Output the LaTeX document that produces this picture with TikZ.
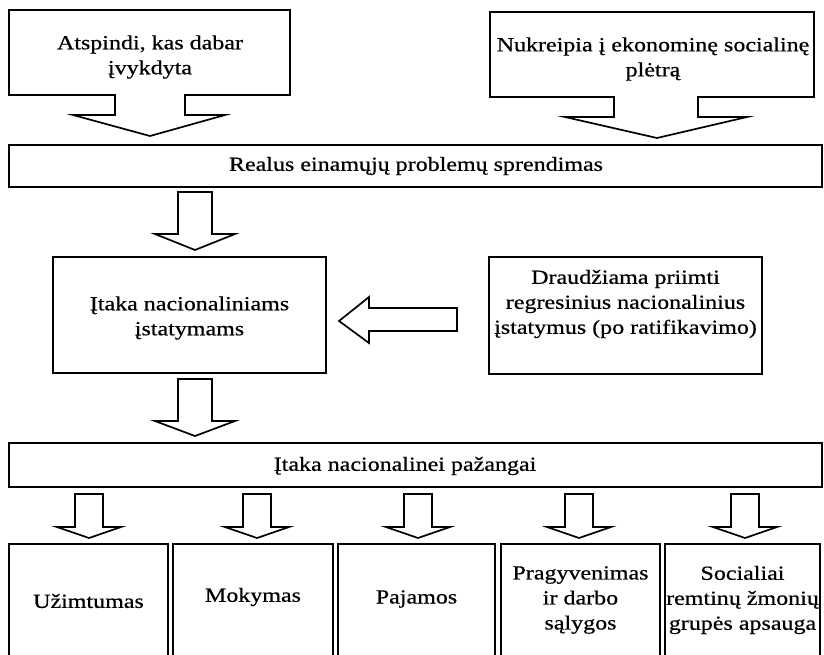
\documentclass[tikz,border=0pt]{standalone}
\usepackage{fontspec}
\setmainfont[FakeStretch=1.2,FakeBold=0.6]{Liberation Serif}
\begin{document}
\begin{tikzpicture}[x=1pt,y=-1pt,
  outline/.style={draw=black,line width=1.7pt,line join=miter,fill=white},
  box/.style={outline,inner sep=0pt,minimum width=#1},
  label/.style={align=center,inner sep=0pt,font=\fontsize{20}{25}\selectfont}]
\useasboundingbox (0,0) rectangle (824,654);
\clip (0,0) rectangle (824,654);

% top callouts
\draw[outline] (9,10) -- (290,10) -- (290,95) -- (185,95) -- (185,115) -- (225,115)
  -- (150,136) -- (73,115) -- (115,115) -- (115,95) -- (9,95) -- cycle;
\node[label] (now) at (150,57) {Atspindi, kas dabar\\įvykdyta};

\draw[outline] (490,12) -- (814,12) -- (814,97) -- (698,97) -- (698,117) -- (747,117)
  -- (657,138) -- (565,117) -- (614,117) -- (614,97) -- (490,97) -- cycle;
\node[label] (dev) at (653,59) {Nukreipia į ekonominę socialinę\\plėtrą};

% main row boxes
\node[box=813pt,minimum height=42pt] (solve) at (415.5,166) {};
\node[label] at (416,166) {Realus einamųjų problemų sprendimas};

\node[box=273pt,minimum height=116pt] (laws) at (189.5,315) {};
\node[label] at (189.5,318) {Įtaka nacionaliniams\\įstatymams};

\node[box=273pt,minimum height=117pt] (ban) at (625.5,315.5) {};
\node[label] at (625.5,304) {Draudžiama priimti\\regresinius nacionalinius\\įstatymus (po ratifikavimo)};

\node[box=813pt,minimum height=44pt] (prog) at (415.5,465) {};
\node[label] at (405,466) {Įtaka nacionalinei pažangai};

% block arrows between the rows
\draw[outline] (178,192) -- (212,192) -- (212,234) -- (235,234) -- (195,250)
  -- (155,234) -- (178,234) -- cycle;
\draw[outline] (178,379) -- (212,379) -- (212,421) -- (235,421) -- (195,436)
  -- (155,421) -- (178,421) -- cycle;
\draw[outline] (457,308) -- (457,331) -- (369,331) -- (369,343) -- (339,321)
  -- (369,297) -- (369,308) -- cycle;

% small arrows to the bottom row
\foreach \cx in {89,257,418,579,745}{
  \draw[outline] (\cx-14,494) -- (\cx+14,494) -- (\cx+14,527) -- (\cx+32,527)
    -- (\cx,538) -- (\cx-32,527) -- (\cx-14,527) -- cycle;
}

% bottom row
\node[box=159pt,minimum height=112pt] (b1) at (88.5,600) {};
\node[box=160pt,minimum height=112pt] (b2) at (253,600) {};
\node[box=157pt,minimum height=112pt] (b3) at (416.5,600) {};
\node[box=159pt,minimum height=112pt] (b4) at (580.5,600) {};
\node[box=155pt,minimum height=112pt] (b5) at (742.5,600) {};
\node[label] at (88.5,601) {Užimtumas};
\node[label] at (253,597) {Mokymas};
\node[label] at (416.5,599) {Pajamos};
\node[label] at (580.5,600) {Pragyvenimas\\ir darbo\\sąlygos};
\node[label] at (742.5,600) {Socialiai\\remtinų žmonių\\grupės apsauga};
\end{tikzpicture}
\end{document}
